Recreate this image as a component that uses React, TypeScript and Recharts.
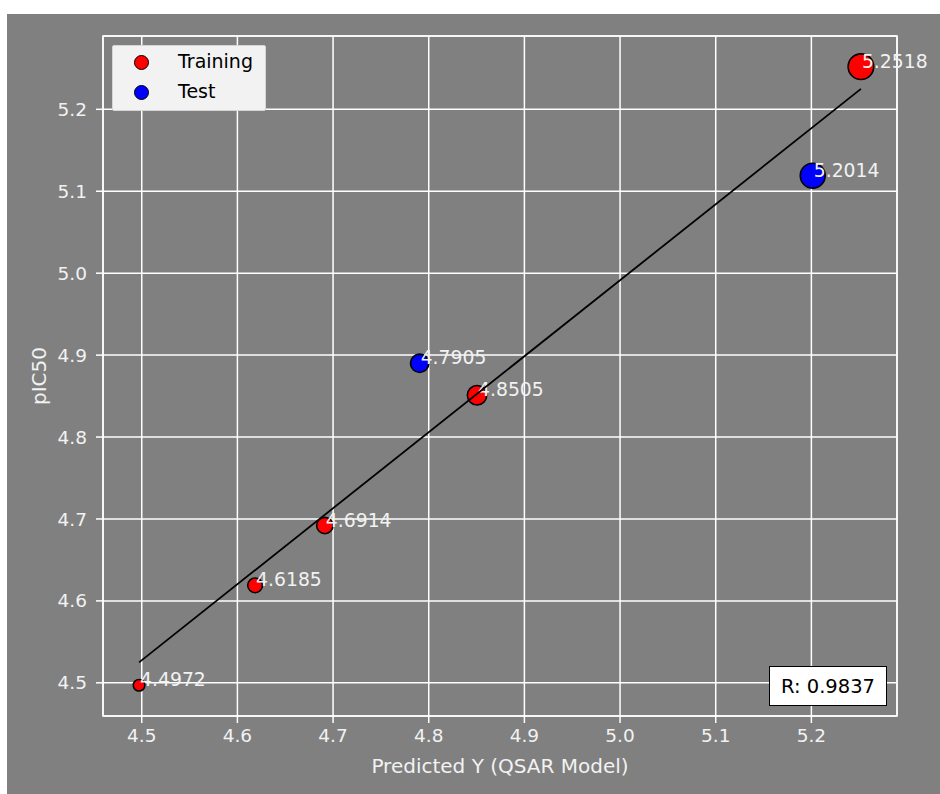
import React from 'react';
import {
  ScatterChart,
  Scatter,
  XAxis,
  YAxis,
  ZAxis,
  CartesianGrid,
  ReferenceArea,
} from 'recharts';

const trainingX = [4.4972, 4.6185, 4.6914, 4.8505, 5.2518];
const trainingY = [4.497, 4.619, 4.692, 4.851, 5.252];
const testX = [4.7905, 5.2014];
const testY = [4.89, 5.119];
const fitX = [4.4972, 5.2518];
const fitY = [4.525, 5.225];
const xTicks = [4.5, 4.6, 4.7, 4.8, 4.9, 5.0, 5.1, 5.2];
const yTicks = [4.5, 4.6, 4.7, 4.8, 4.9, 5.0, 5.1, 5.2];
const rValue = '0.9837';

const domain: [number, number] = [4.4595, 5.2895];
const FONT = '"DejaVu Sans", sans-serif';
const FS = 18.5;
const LIGHT = '#f2f2f2';

const training = trainingX.map((x, i) => ({ x, y: trainingY[i] }));
const test = testX.map((x, i) => ({ x, y: testY[i] }));
const fit = fitX.map((x, i) => ({ x, y: fitY[i] }));

const makeDot = (fill: string) => (p: any) => {
  const r = p.size ? Math.sqrt(p.size / Math.PI) : (p.width || 12) / 2;
  return (
    <g>
      <circle cx={p.cx} cy={p.cy} r={r} fill={fill} stroke="#000" strokeWidth={1.6} />
      <text x={p.cx + 1} y={p.cy + 1} fill={LIGHT} fontSize={18.8} fontFamily={FONT}>
        {p.payload.x.toFixed(4)}
      </text>
    </g>
  );
};

const LegendBox = () => (
  <div
    style={{
      position: 'absolute',
      left: 105,
      top: 31,
      width: 152,
      height: 64,
      background: '#f2f2f2',
      border: '1px solid #d6d6d6',
      borderRadius: 2,
      fontFamily: FONT,
      fontSize: 19,
      color: '#000',
    }}
  >
    {[
      { name: 'Training', color: 'red', top: 16 },
      { name: 'Test', color: 'blue', top: 46 },
    ].map((it) => (
      <div key={it.name}>
        <div
          style={{
            position: 'absolute',
            left: 21,
            top: it.top - 7,
            width: 13,
            height: 13,
            borderRadius: '50%',
            background: it.color,
            border: '1.4px solid #000',
          }}
        />
        <div style={{ position: 'absolute', left: 65, top: it.top - 12, lineHeight: '22px' }}>
          {it.name}
        </div>
      </div>
    ))}
  </div>
);

export default function App() {
  return (
    <div style={{ position: 'absolute', left: 0, top: 0, width: 940, height: 794, background: '#fff' }}>
      <div style={{ position: 'absolute', left: 7, top: 14, width: 933, height: 780, background: '#808080' }}>
        <ScatterChart width={933} height={780} margin={{ top: 22, right: 43, left: 0, bottom: 14 }}>
          <CartesianGrid stroke="#ffffff" strokeWidth={1.5} />
          <XAxis
            type="number"
            dataKey="x"
            domain={domain}
            ticks={xTicks}
            tickFormatter={(v: number) => v.toFixed(1)}
            tick={{ fill: LIGHT, fontSize: FS, fontFamily: FONT }}
            tickLine={{ stroke: '#fff', strokeWidth: 1.5 }}
            axisLine={false}
            tickSize={7}
            tickMargin={6}
            height={64}
            label={{
              content: (props: any) => {
                const vb = props.viewBox;
                return (
                  <text
                    x={vb.x + vb.width / 2}
                    y={vb.y + 57}
                    textAnchor="middle"
                    fill={LIGHT}
                    fontSize={20}
                    fontFamily={FONT}
                  >
                    Predicted Y (QSAR Model)
                  </text>
                );
              },
            }}
          />
          <YAxis
            type="number"
            dataKey="y"
            domain={domain}
            ticks={yTicks}
            tickFormatter={(v: number) => v.toFixed(1)}
            tick={{ fill: LIGHT, fontSize: FS, fontFamily: FONT }}
            tickLine={{ stroke: '#fff', strokeWidth: 1.5 }}
            axisLine={false}
            tickSize={7}
            tickMargin={9}
            width={96}
            label={{
              content: (props: any) => {
                const vb = props.viewBox;
                const cx = 32;
                const cy = vb.y + vb.height / 2;
                return (
                  <text
                    x={cx}
                    y={cy}
                    transform={`rotate(-90 ${cx} ${cy})`}
                    textAnchor="middle"
                    dominantBaseline="central"
                    fill={LIGHT}
                    fontSize={20}
                    fontFamily={FONT}
                  >
                    pIC50
                  </text>
                );
              },
            }}
          />
          <ZAxis type="number" dataKey="x" domain={[4.4972, 5.2518]} range={[105, 515]} />
          <ReferenceArea
            x1={domain[0]}
            x2={domain[1]}
            y1={domain[0]}
            y2={domain[1]}
            fill="none"
            stroke="#fff"
            strokeWidth={1.5}
            ifOverflow="visible"
          />
          <Scatter name="Training" data={training} shape={makeDot('red')} isAnimationActive={false} />
          <Scatter name="Test" data={test} shape={makeDot('blue')} isAnimationActive={false} />
          <Scatter
            name="fit"
            data={fit}
            line={{ stroke: '#000', strokeWidth: 1.8 }}
            shape={() => <g />}
            isAnimationActive={false}
          />
        </ScatterChart>
        <LegendBox />
        <div
          style={{
            position: 'absolute',
            left: 762,
            top: 652,
            width: 116,
            height: 38,
            background: '#fff',
            border: '1.5px solid #000',
            fontFamily: FONT,
            fontSize: 19.5,
            color: '#000',
            display: 'flex',
            alignItems: 'center',
            justifyContent: 'center',
          }}
        >
          R: {rValue}
        </div>
      </div>
    </div>
  );
}
